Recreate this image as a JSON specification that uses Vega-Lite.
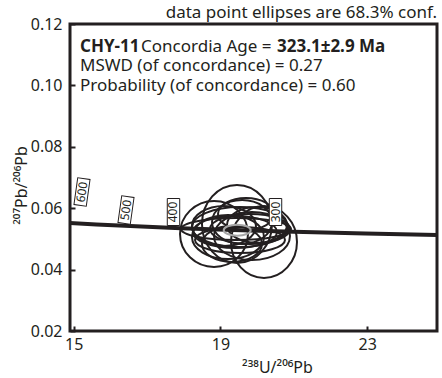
{
  "$schema": "https://vega.github.io/schema/vega-lite/v6.json",
  "width": 367,
  "height": 307,
  "autosize": "none",
  "padding": {"left": 70, "top": 24, "right": 5, "bottom": 47},
  "background": "white",
  "config": {
    "font": "Noto Sans",
    "view": {"stroke": "#231f20", "strokeWidth": 3},
    "axis": {
      "domain": false,
      "grid": false,
      "tickColor": "#231f20",
      "tickWidth": 2,
      "tickSize": -5,
      "labelFont": "Noto Sans",
      "labelFontSize": 16,
      "labelColor": "#231f20",
      "titleFont": "Noto Sans",
      "titleFontSize": 16,
      "titleFontWeight": "normal",
      "titleColor": "#231f20"
    }
  },
  "title": {
    "text": "data point ellipses are 68.3% conf.",
    "anchor": "end",
    "fontSize": 17,
    "fontWeight": "normal",
    "color": "#231f20",
    "offset": -6
  },
  "datasets": {
    "ellipses": [
      {"id": "E1", "x": 19.450, "y": 0.05485, "sx": 0.954, "sy": 0.01270},
      {"id": "E2", "x": 20.186, "y": 0.04899, "sx": 0.899, "sy": 0.01173},
      {"id": "E3", "x": 18.824, "y": 0.05160, "sx": 0.926, "sy": 0.01075},
      {"id": "E4", "x": 19.532, "y": 0.05388, "sx": 1.308, "sy": 0.00651},
      {"id": "E5", "x": 19.396, "y": 0.05225, "sx": 1.144, "sy": 0.00521},
      {"id": "E6", "x": 19.805, "y": 0.05322, "sx": 1.090, "sy": 0.00489},
      {"id": "E7", "x": 19.205, "y": 0.05062, "sx": 0.981, "sy": 0.00717},
      {"id": "E8", "x": 19.859, "y": 0.05094, "sx": 1.035, "sy": 0.00782},
      {"id": "E9", "x": 19.587, "y": 0.05550, "sx": 0.817, "sy": 0.00717},
      {"id": "E10", "x": 19.096, "y": 0.05420, "sx": 0.872, "sy": 0.00651},
      {"id": "E11", "x": 19.995, "y": 0.05453, "sx": 0.817, "sy": 0.00586},
      {"id": "E12", "x": 19.532, "y": 0.04964, "sx": 1.226, "sy": 0.00423},
      {"id": "E13", "x": 19.314, "y": 0.04834, "sx": 0.817, "sy": 0.00586},
      {"id": "E14", "x": 19.696, "y": 0.05811, "sx": 0.763, "sy": 0.00521},
      {"id": "E15", "x": 19.423, "y": 0.05322, "sx": 1.499, "sy": 0.00358}
    ],
    "age": [
      {"x": 19.456, "y": 0.05285, "sx": 0.368, "sy": 0.0018}
    ],
    "concordia": [
      {"t": 425, "x": 14.674, "y": 0.05532},
      {"t": 400, "x": 15.620, "y": 0.05470},
      {"t": 375, "x": 16.695, "y": 0.05410},
      {"t": 350, "x": 17.920, "y": 0.05350},
      {"t": 325, "x": 19.339, "y": 0.05291},
      {"t": 300, "x": 20.990, "y": 0.05233},
      {"t": 275, "x": 22.945, "y": 0.05176},
      {"t": 250, "x": 25.290, "y": 0.05121}
    ],
    "ticksTilted": [
      {"label": "600", "x": 15.227, "y": 0.06528},
      {"label": "500", "x": 16.426, "y": 0.05942}
    ],
    "ticksStraight": [
      {"label": "400", "x": 17.720, "y": 0.05876},
      {"label": "300", "x": 20.500, "y": 0.05876}
    ],
    "notesBold": [
      {"text": "CHY-11", "x": 15.172, "y": 0.11251},
      {"text": "323.1±2.9 Ma", "x": 20.540, "y": 0.11251}
    ],
    "notesNormal": [
      {"text": "Concordia Age =", "x": 16.835, "y": 0.11251},
      {"text": "MSWD (of concordance) = 0.27", "x": 15.172, "y": 0.10632},
      {"text": "Probability (of concordance) = 0.60", "x": 15.172, "y": 0.09980}
    ]
  },
  "layer": [
    {
      "data": {"name": "ellipses"},
      "mark": {"type": "point", "filled": false, "stroke": "#231f20", "strokeWidth": 2, "opacity": 1},
      "encoding": {
        "x": {
          "field": "x", "type": "quantitative",
          "scale": {"domain": [14.9, 24.9], "nice": false, "zero": false},
          "axis": {"values": [15, 19, 23], "title": "²³⁸U/²⁰⁶Pb", "labelPadding": 10, "titleX": 207, "titleY": 41, "titleBaseline": "alphabetic"}
        },
        "y": {
          "field": "y", "type": "quantitative",
          "scale": {"domain": [0.02, 0.12], "nice": false, "zero": false},
          "axis": {"values": [0.02, 0.04, 0.06, 0.08, 0.10, 0.12], "format": ".2f", "title": "²⁰⁷Pb/²⁰⁶Pb", "labelPadding": 13, "titleX": -49, "titleY": 161, "titleAngle": 270, "titleAlign": "center", "titleBaseline": "middle"}
        },
        "size": {
          "field": "sx", "type": "quantitative",
          "scale": {"type": "pow", "exponent": 2, "domain": [0, 1], "range": [0, 5387.56]},
          "legend": null
        },
        "shape": {
          "field": "id", "type": "nominal",
          "scale": {
            "domain": ["E1","E2","E3","E4","E5","E6","E7","E8","E9","E10","E11","E12","E13","E14","E15"],
            "range": [
              "M1,0C1,0.615,0.552,1.114,0,1.114C-0.552,1.114,-1,0.615,-1,0C-1,-0.615,-0.552,-1.114,0,-1.114C0.552,-1.114,1,-0.615,1,0Z",
              "M1,0C1,0.602,0.552,1.091,0,1.091C-0.552,1.091,-1,0.602,-1,0C-1,-0.602,-0.552,-1.091,0,-1.091C0.552,-1.091,1,-0.602,1,0Z",
              "M1,0C1,0.536,0.552,0.971,0,0.971C-0.552,0.971,-1,0.536,-1,0C-1,-0.536,-0.552,-0.971,0,-0.971C0.552,-0.971,1,-0.536,1,0Z",
              "M1,0C1,0.230,0.552,0.417,0,0.417C-0.552,0.417,-1,0.230,-1,0C-1,-0.230,-0.552,-0.417,0,-0.417C0.552,-0.417,1,-0.230,1,0Z",
              "M1,0C1,0.210,0.552,0.381,0,0.381C-0.552,0.381,-1,0.210,-1,0C-1,-0.210,-0.552,-0.381,0,-0.381C0.552,-0.381,1,-0.210,1,0Z",
              "M1,0C1,0.207,0.552,0.375,0,0.375C-0.552,0.375,-1,0.207,-1,0C-1,-0.207,-0.552,-0.375,0,-0.375C0.552,-0.375,1,-0.207,1,0Z",
              "M1,0C1,0.337,0.552,0.611,0,0.611C-0.552,0.611,-1,0.337,-1,0C-1,-0.337,-0.552,-0.611,0,-0.611C0.552,-0.611,1,-0.337,1,0Z",
              "M1,0C1,0.349,0.552,0.632,0,0.632C-0.552,0.632,-1,0.349,-1,0C-1,-0.349,-0.552,-0.632,0,-0.632C0.552,-0.632,1,-0.349,1,0Z",
              "M1,0C1,0.405,0.552,0.733,0,0.733C-0.552,0.733,-1,0.405,-1,0C-1,-0.405,-0.552,-0.733,0,-0.733C0.552,-0.733,1,-0.405,1,0Z",
              "M1,0C1,0.345,0.552,0.625,0,0.625C-0.552,0.625,-1,0.345,-1,0C-1,-0.345,-0.552,-0.625,0,-0.625C0.552,-0.625,1,-0.345,1,0Z",
              "M1,0C1,0.331,0.552,0.600,0,0.600C-0.552,0.600,-1,0.331,-1,0C-1,-0.331,-0.552,-0.600,0,-0.600C0.552,-0.600,1,-0.331,1,0Z",
              "M1,0C1,0.160,0.552,0.289,0,0.289C-0.552,0.289,-1,0.160,-1,0C-1,-0.160,-0.552,-0.289,0,-0.289C0.552,-0.289,1,-0.160,1,0Z",
              "M1,0C1,0.331,0.552,0.600,0,0.600C-0.552,0.600,-1,0.331,-1,0C-1,-0.331,-0.552,-0.600,0,-0.600C0.552,-0.600,1,-0.331,1,0Z",
              "M1,0C1,0.315,0.552,0.571,0,0.571C-0.552,0.571,-1,0.315,-1,0C-1,-0.315,-0.552,-0.571,0,-0.571C0.552,-0.571,1,-0.315,1,0Z",
              "M1,0C1,0.110,0.552,0.200,0,0.200C-0.552,0.200,-1,0.110,-1,0C-1,-0.110,-0.552,-0.200,0,-0.200C0.552,-0.200,1,-0.110,1,0Z"
            ]
          },
          "legend": null
        }
      }
    },
    {
      "data": {"name": "concordia"},
      "mark": {"type": "line", "stroke": "#231f20", "strokeWidth": 4, "clip": true},
      "encoding": {
        "x": {"field": "x", "type": "quantitative"},
        "y": {"field": "y", "type": "quantitative"},
        "order": {"field": "t", "type": "quantitative", "sort": "descending"}
      }
    },
    {
      "data": {"name": "age"},
      "mark": {"type": "point", "filled": false, "stroke": "#a6a6a6", "strokeWidth": 2, "opacity": 1,
        "shape": "M1,0C1,0.225,0.552,0.407,0,0.407C-0.552,0.407,-1,0.225,-1,0C-1,-0.225,-0.552,-0.407,0,-0.407C0.552,-0.407,1,-0.225,1,0Z"},
      "encoding": {
        "x": {"field": "x", "type": "quantitative"},
        "y": {"field": "y", "type": "quantitative"},
        "size": {"field": "sx", "type": "quantitative", "legend": null}
      }
    },
    {
      "data": {"name": "ticksTilted"},
      "mark": {"type": "point", "shape": "M-0.46,-1H0.46V1H-0.46Z", "size": 729, "filled": true, "fill": "white", "stroke": "#231f20", "strokeWidth": 1, "opacity": 1, "angle": 8},
      "encoding": {
        "x": {"field": "x", "type": "quantitative"},
        "y": {"field": "y", "type": "quantitative"}
      }
    },
    {
      "data": {"name": "ticksStraight"},
      "mark": {"type": "point", "shape": "M-0.46,-1H0.46V1H-0.46Z", "size": 729, "filled": true, "fill": "white", "stroke": "#231f20", "strokeWidth": 1, "opacity": 1, "angle": 0},
      "encoding": {
        "x": {"field": "x", "type": "quantitative"},
        "y": {"field": "y", "type": "quantitative"}
      }
    },
    {
      "data": {"name": "ticksTilted"},
      "mark": {"type": "text", "angle": 278, "fontSize": 12, "align": "center", "baseline": "middle", "color": "#231f20"},
      "encoding": {
        "x": {"field": "x", "type": "quantitative"},
        "y": {"field": "y", "type": "quantitative"},
        "text": {"field": "label"}
      }
    },
    {
      "data": {"name": "ticksStraight"},
      "mark": {"type": "text", "angle": 270, "fontSize": 12, "align": "center", "baseline": "middle", "color": "#231f20"},
      "encoding": {
        "x": {"field": "x", "type": "quantitative"},
        "y": {"field": "y", "type": "quantitative"},
        "text": {"field": "label"}
      }
    },
    {
      "data": {"name": "notesBold"},
      "mark": {"type": "text", "fontSize": 17, "fontWeight": "bold", "align": "left", "baseline": "middle", "color": "#231f20"},
      "encoding": {
        "x": {"field": "x", "type": "quantitative"},
        "y": {"field": "y", "type": "quantitative"},
        "text": {"field": "text"}
      }
    },
    {
      "data": {"name": "notesNormal"},
      "mark": {"type": "text", "fontSize": 17, "align": "left", "baseline": "middle", "color": "#231f20"},
      "encoding": {
        "x": {"field": "x", "type": "quantitative"},
        "y": {"field": "y", "type": "quantitative"},
        "text": {"field": "text"}
      }
    }
  ]
}
